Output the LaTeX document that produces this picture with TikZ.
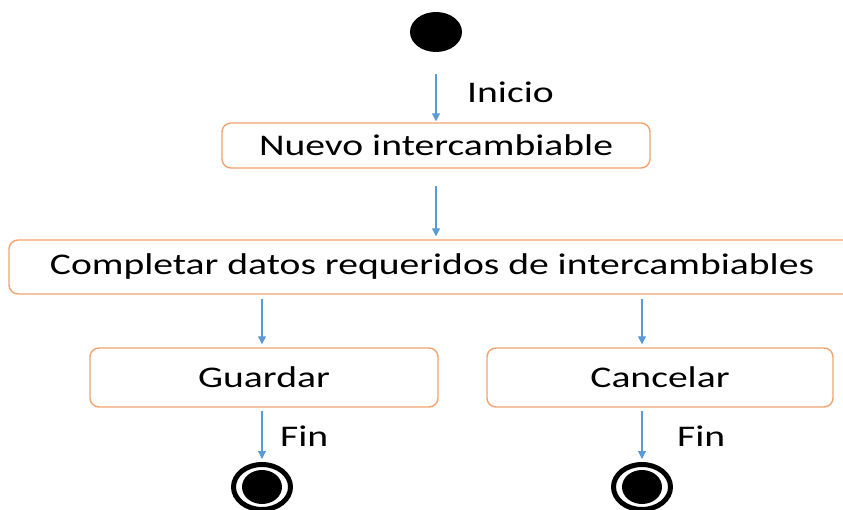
\documentclass[tikz,border=0pt]{standalone}
\usepackage{fontspec}
\setmainfont{Carlito}
\usetikzlibrary{shapes.geometric,arrows.meta}
\definecolor{boxorange}{RGB}{241,163,112}
\definecolor{arrowblue}{RGB}{91,155,213}
\newcommand{\wide}[1]{\scalebox{1.32}[1]{#1}}
\begin{document}
\begin{tikzpicture}[x=1pt,y=-1pt,
  actbox/.style={draw=boxorange,line width=1.4pt,rounded corners=9pt,fill=white,
    inner sep=0pt,font=\fontsize{30}{35}\selectfont},
  flow/.style={draw=arrowblue,line width=1.2pt,-{Triangle[length=8pt,width=8pt]}},
  lbl/.style={anchor=west,inner sep=0pt,font=\fontsize{30}{35}\selectfont},
  dot/.style={ellipse,fill=black,inner sep=0pt}]
\useasboundingbox (0,0) rectangle (843,510);
\clip (0,0) rectangle (843,510);
% start
\node[dot,minimum width=52pt,minimum height=40pt] (start) at (436,32) {};
% boxes
\node[actbox,minimum width=428pt,minimum height=45pt] (nuevo) at (436,145.5) {\wide{Nuevo intercambiable}};
\node[actbox,minimum width=846pt,minimum height=54pt] (comp) at (432,267) {\wide{Completar datos requeridos de intercambiables}};
\node[actbox,minimum width=348pt,minimum height=59pt] (guardar) at (264,377.5) {\wide{Guardar}};
\node[actbox,minimum width=346pt,minimum height=59pt] (cancelar) at (660,377.5) {\wide{Cancelar}};
% ends
\node[ellipse,draw=black,line width=5pt,fill=white,inner sep=0pt,minimum width=57pt,minimum height=45pt] (end1) at (262,487) {};
\node[dot,minimum width=40pt,minimum height=34pt] (end1in) at (end1) {};
\node[ellipse,draw=black,line width=5pt,fill=white,inner sep=0pt,minimum width=57pt,minimum height=45pt] (end2) at (642,487) {};
\node[dot,minimum width=40pt,minimum height=34pt] (end2in) at (end2) {};
% connectors
\draw[flow,shorten <=22pt,shorten >=1pt] (start.south) -- (nuevo.north);
\draw[flow,shorten <=17pt,shorten >=3pt] (nuevo.south) -- (nuevo.south |- comp.north);
\draw[flow,shorten <=4pt,shorten >=3pt] (comp.south -| end1) -- (guardar.north -| end1);
\draw[flow,shorten <=4pt,shorten >=3pt] (comp.south -| end2) -- (cancelar.north -| end2);
\draw[flow,shorten <=3pt,shorten >=3pt] (guardar.south -| end1) -- (end1.north);
\draw[flow,shorten <=3pt,shorten >=3pt] (cancelar.south -| end2) -- (end2.north);
% labels
\node[lbl] (inicio) at (467,92) {\wide{Inicio}};
\node[lbl] (fin1) at (280,436) {\wide{Fin}};
\node[lbl] (fin2) at (677,436) {\wide{Fin}};
\end{tikzpicture}
\end{document}
